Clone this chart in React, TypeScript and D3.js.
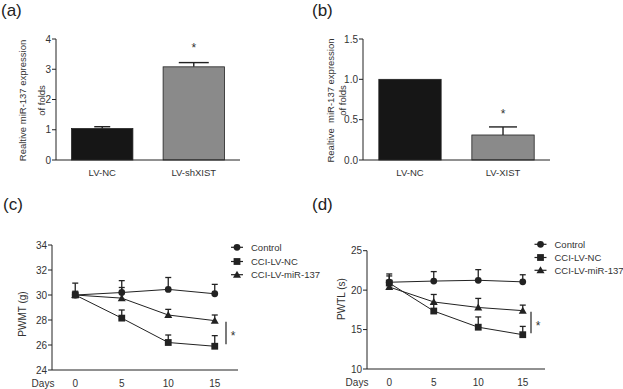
import React from 'react';
import * as d3 from 'd3';

// panel (a) / (b) bar data
const catsA = ['LV-NC', 'LV-shXIST'];
const valsA = [1.04, 3.08];
const errA = [0.06, 0.14];
const ticksA = [0, 1, 2, 3, 4];

const catsB = ['LV-NC', 'LV-XIST'];
const valsB = [1.0, 0.31];
const errB = [0, 0.1];
const ticksB = [0, 0.5, 1.0, 1.5];

// panel (c) / (d) time courses
const days = [0, 5, 10, 15];
const seriesNames = ['Control', 'CCI-LV-NC', 'CCI-LV-miR-137'];

const pwmtControl = [30.0, 30.2, 30.45, 30.1];
const pwmtControlErr = [0.3, 0.95, 0.95, 0.75];
const pwmtNC = [30.0, 28.15, 26.2, 25.9];
const pwmtNCErr = [0.95, 0.65, 0.6, 0.85];
const pwmtMiR = [30.0, 29.75, 28.4, 27.95];
const pwmtMiRErr = [0.2, 0.85, 0.45, 0.45];
const ticksC = [24, 26, 28, 30, 32, 34];

const pwtlControl = [21.0, 21.15, 21.25, 21.05];
const pwtlControlErr = [1.05, 1.2, 1.35, 0.9];
const pwtlNC = [20.9, 17.35, 15.3, 14.35];
const pwtlNCErr = [0.9, 0.9, 1.3, 1.05];
const pwtlMiR = [20.4, 18.5, 17.8, 17.4];
const pwtlMiRErr = [0.4, 0.95, 1.15, 0.7];
const ticksD = [10, 15, 20, 25];

const FONT = 'Liberation Sans, Arial, sans-serif';
const INK = '#222';
const TXT = '#333';

type BarProps = {
  cats: string[]; vals: number[]; errs: number[]; ticks: number[];
  x0: number; x1: number; yTop: number; yBot: number; yMax: number;
  fmt: (v: number) => string; labelX: [number, number]; starIdx: number; starY: number;
  labelGap?: string; caps: number[];
};

function BarPanel(p: BarProps) {
  const x = d3.scaleBand<string>().domain(p.cats).range([p.x0, p.x1]).paddingInner(0.33).paddingOuter(0.17);
  const y = d3.scaleLinear().domain([0, p.yMax]).range([p.yBot, p.yTop]);
  const fills = ['#161616', '#8a8a8a'];
  const cy = (p.yTop + p.yBot) / 2 + 1;
  return (
    <g>
      {p.cats.map((c, i) => {
        const bx = x(c)!;
        const cx = bx + x.bandwidth() / 2;
        const top = y(p.vals[i] + p.errs[i]);
        return (
          <g key={c}>
            {p.errs[i] > 0 && (
              <g stroke={INK} strokeWidth={1.4}>
                <line x1={cx} x2={cx} y1={y(p.vals[i])} y2={top} />
                <line x1={cx - p.caps[i]} x2={cx + p.caps[i]} y1={top} y2={top} />
              </g>
            )}
            <rect x={bx} y={y(p.vals[i])} width={x.bandwidth()} height={p.yBot - y(p.vals[i])}
              fill={fills[i]} stroke={INK} strokeWidth={0.8} />
            <text x={cx} y={p.yBot + 16} textAnchor="middle" fontSize={9.5} fill={TXT}>{c}</text>
          </g>
        );
      })}
      <text x={x(p.cats[p.starIdx])! + x.bandwidth() / 2} y={p.starY + 6} textAnchor="middle" fontSize={12} fill={TXT}>*</text>
      <line x1={p.x0} x2={p.x0} y1={p.yTop} y2={p.yBot} stroke={INK} strokeWidth={1} />
      <line x1={p.x0} x2={p.x1} y1={p.yBot} y2={p.yBot} stroke={INK} strokeWidth={1} />
      {p.ticks.map(t => (
        <g key={t}>
          <line x1={p.x0 - 4} x2={p.x0} y1={y(t)} y2={y(t)} stroke={INK} />
          <text x={p.x0 - 5} y={y(t) + 3.5} textAnchor="end" fontSize={10} fill={TXT}>{p.fmt(t)}</text>
        </g>
      ))}
      <text transform={`translate(${p.labelX[0]},${cy}) rotate(-90)`} textAnchor="middle" fontSize={9.5} fill={TXT}
        style={{ whiteSpace: 'pre' }}>{`Realtive${p.labelGap || ' '}miR-137 expression`}</text>
      <text transform={`translate(${p.labelX[1]},${cy}) rotate(-90)`} textAnchor="middle" fontSize={9.5} fill={TXT}>of folds</text>
    </g>
  );
}

function Marker({ kind, x, y }: { kind: number; x: number; y: number }) {
  if (kind === 0) return <circle cx={x} cy={y} r={3.4} fill={INK} />;
  if (kind === 1) return <rect x={x - 3.4} y={y - 3.4} width={6.8} height={6.8} fill={INK} />;
  return <path d={`M${x},${y - 4} L${x + 4},${y + 3} L${x - 4},${y + 3} Z`} fill={INK} />;
}

type LineProps = {
  series: number[][]; errs: number[][]; ticks: number[];
  x0: number; x1: number; yTop: number; yBot: number; yDom: [number, number];
  yLabel: string; yLabelX: number; yLabelY: number; daysX: number;
  legX: number; legY: number[]; sig: [number, number, number];
};

function LinePanel(p: LineProps) {
  const x = d3.scaleLinear().domain([-2.5, 17.5]).range([p.x0, p.x1]);
  const y = d3.scaleLinear().domain(p.yDom).range([p.yBot, p.yTop]);
  const line = d3.line<number>().x((_, i) => x(days[i])).y(v => y(v));
  return (
    <g>
      {p.series.map((s, k) => (
        <g key={k}>
          {s.map((v, i) => (
            <g key={i} stroke={INK} strokeWidth={1.3}>
              <line x1={x(days[i])} x2={x(days[i])} y1={y(v)} y2={y(v + p.errs[k][i])} />
              <line x1={x(days[i]) - 3} x2={x(days[i]) + 3} y1={y(v + p.errs[k][i])} y2={y(v + p.errs[k][i])} />
            </g>
          ))}
          <path d={line(s)!} fill="none" stroke={INK} strokeWidth={1} />
          {s.map((v, i) => <Marker key={i} kind={k} x={x(days[i])} y={y(v)} />)}
        </g>
      ))}
      <line x1={p.x0} x2={p.x0} y1={p.yTop} y2={p.yBot} stroke={INK} />
      <line x1={p.x0} x2={p.x1} y1={p.yBot} y2={p.yBot} stroke={INK} />
      {p.ticks.map(t => (
        <g key={t}>
          <line x1={p.x0 - 4} x2={p.x0} y1={y(t)} y2={y(t)} stroke={INK} />
          <text x={p.x0 - 5} y={y(t) + 3.5} textAnchor="end" fontSize={10} fill={TXT}>{t}</text>
        </g>
      ))}
      {days.map(d => (
        <text key={d} x={x(d)} y={p.yBot + 17} textAnchor="middle" fontSize={10} fill={TXT}>{d}</text>
      ))}
      <text x={p.daysX} y={p.yBot + 17} textAnchor="middle" fontSize={10} fill={TXT}>Days</text>
      <text transform={`translate(${p.yLabelX},${p.yLabelY}) rotate(-90)`} textAnchor="middle" fontSize={10} fill={TXT}>{p.yLabel}</text>
      <line x1={p.sig[0]} x2={p.sig[0]} y1={p.sig[1]} y2={p.sig[2]} stroke={INK} strokeWidth={1.2} />
      <text x={p.sig[0] + 7} y={(p.sig[1] + p.sig[2]) / 2 + 7} textAnchor="middle" fontSize={12} fill={TXT}>*</text>
      {seriesNames.map((n, k) => (
        <g key={n}>
          <line x1={p.legX - 6} x2={p.legX + 6} y1={p.legY[k]} y2={p.legY[k]} stroke={INK} strokeWidth={1.2} />
          <Marker kind={k} x={p.legX} y={p.legY[k]} />
          <text x={p.legX + 14} y={p.legY[k] + 3.5} fontSize={9.5} fill={TXT}>{n}</text>
        </g>
      ))}
    </g>
  );
}

export default function App() {
  return (
    <div style={{ position: 'absolute', left: 0, top: 0 }}>
      <svg width={623} height={389} fontFamily={FONT} style={{ display: 'block', background: '#fff' }}>
        <text x={1} y={16} fontSize={17} fill={INK}>(a)</text>
        <text x={312} y={16} fontSize={17} fill={INK}>(b)</text>
        <text x={3} y={210} fontSize={17} fill={INK}>(c)</text>
        <text x={312} y={210} fontSize={17} fill={INK}>(d)</text>
        <BarPanel cats={catsA} vals={valsA} errs={errA} ticks={ticksA} x0={56} x1={240} yTop={39} yBot={160}
          yMax={4} fmt={v => String(v)} labelX={[26, 45]} starIdx={1} starY={46} caps={[8, 15]} />
        <BarPanel cats={catsB} vals={valsB} errs={errB} ticks={ticksB} x0={363} x1={550} yTop={39} yBot={160}
          yMax={1.5} fmt={v => v.toFixed(1)} labelX={[334, 346]} starIdx={1} starY={112} labelGap="  " caps={[8, 14]} />
        <LinePanel series={[pwmtControl, pwmtNC, pwmtMiR]} errs={[pwmtControlErr, pwmtNCErr, pwmtMiRErr]}
          ticks={ticksC} x0={52} x1={238} yTop={245} yBot={370} yDom={[24, 34]}
          yLabel="PWMT (g)" yLabelX={26} yLabelY={314} daysX={43}
          legX={237} legY={[247.3, 261.5, 274.7]} sig={[226, 321.7, 344.3]} />
        <LinePanel series={[pwtlControl, pwtlNC, pwtlMiR]} errs={[pwtlControlErr, pwtlNCErr, pwtlMiRErr]}
          ticks={ticksD} x0={367} x1={545} yTop={250.7} yBot={369} yDom={[10, 25]}
          yLabel="PWTL (s)" yLabelX={345} yLabelY={299} daysX={357}
          legX={540.5} legY={[244.3, 257.5, 270.3]} sig={[531, 311.7, 333.3]} />
      </svg>
    </div>
  );
}
